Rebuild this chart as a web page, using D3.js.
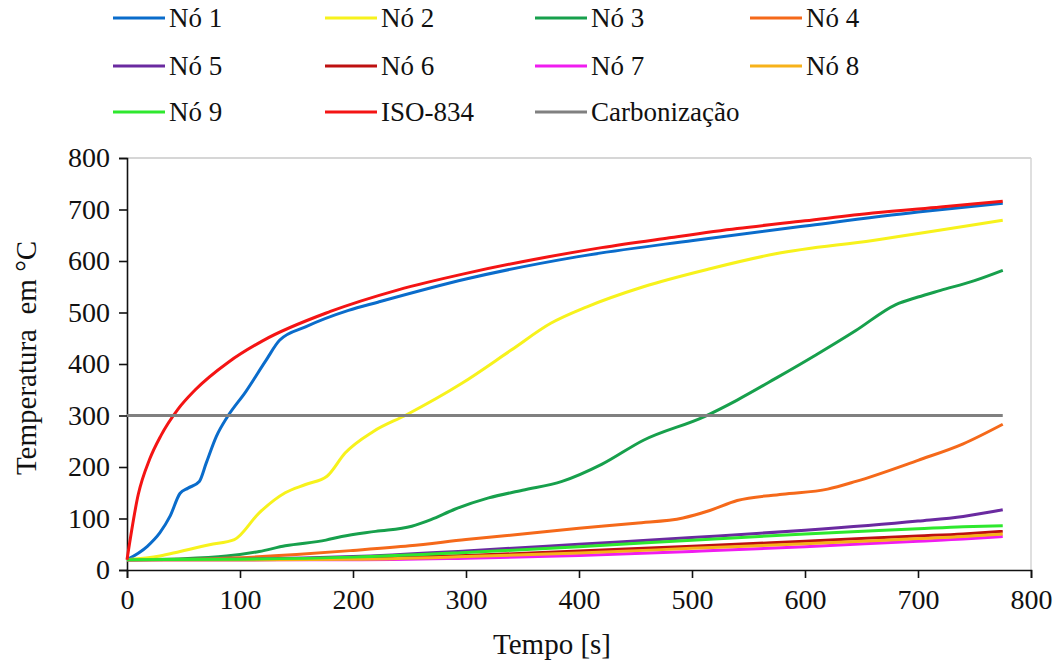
<!DOCTYPE html>
<html><head><meta charset="utf-8">
<script src="https://cdn.jsdelivr.net/npm/d3@7"></script>
<style>
html,body{margin:0;padding:0;background:#fff;}
svg{display:block;}
</style></head>
<body>
<svg id="chart" width="1057" height="666"></svg>
<script>
// ---- data ----
const seriesNames = ["Nó 1","Nó 2","Nó 3","Nó 4","Nó 5","Nó 6","Nó 7","Nó 8","Nó 9","ISO-834","Carbonização"];
const seriesColors = ["#0a6ccb","#f7f21c","#17a04c","#f5691a","#6a2aa0","#be1010","#f01cf0","#f7b21a","#2ee82e","#f41414","#808080"];

const no1T = [0,18,29,38,47,54,64,70,79,89,105,123,135,158,196,222,300,398,501,600,700,775];
const no1V = [20,46,72,104,149,159,172,207,259,298,346,407,446,472,504,520,565,608,640,668,695,712];

const no2T = [0,29,47,73,95,117,140,158,177,193,218,247,296,340,375,407,457,516,574,660,775];
const no2V = [20,27,36,49,59,111,150,166,182,227,269,301,362,427,479,511,550,585,614,640,679];

const no3T = [0,50,88,117,140,176,190,220,252,269,290,320,350,385,420,457,511,540,574,610,645,680,700,720,750,775];
const no3V = [20,22,27,36,47,58,65,75,85,98,118,140,155,172,205,252,298,330,372,418,465,515,530,543,562,582];

const no4T = [0,60,100,150,200,250,300,350,400,450,492,515,540,580,620,645,700,740,775];
const no4V = [20,21,24,30,38,47,59,70,81,91,101,115,135,147,157,172,213,245,283];

const lowT = [0,100,200,300,400,500,600,700,740,775];
const no5V = [20,21,26,37,50,63,77,95,104,117];
const no6V = [20,20,22,28,37,46,56,66,70,75];
const no7V = [20,20,20,23,28,36,45,56,60,65];
const no8V = [20,20,21,26,33,42,51,61,65,70];
const no9V = [20,21,25,34,45,58,70,80,84,86];

const isoT = [0,10,20,30,45,60,90,120,180,240,300,360,420,480,540,600,660,720,775];
const isoV = [20,147,215,261,312,349,404,445,502,544,576,603,626,645,663,678,693,705,716];

const carbT = [0,775];
const carbV = [300,300];

const xTicks = [0,100,200,300,400,500,600,700,800];
const yTicks = [0,100,200,300,400,500,600,700,800];

const seriesT = [no1T,no2T,no3T,no4T,lowT,lowT,lowT,lowT,lowT,isoT,carbT];
const seriesV = [no1V,no2V,no3V,no4V,no5V,no6V,no7V,no8V,no9V,isoV,carbV];

// ---- layout ----
const svg = d3.select("#chart");
const L = 127, R = 1031, T = 158, B = 570;
const x = d3.scaleLinear().domain([0,800]).range([L,R]);
const y = d3.scaleLinear().domain([0,800]).range([B,T]);
const FF = "Liberation Serif";

// plot frame (light)
svg.append("line").attr("x1",L).attr("x2",R).attr("y1",T).attr("y2",T)
  .attr("stroke","#c8c8c8").attr("stroke-width",1.5);
svg.append("line").attr("x1",R).attr("x2",R).attr("y1",T).attr("y2",B)
  .attr("stroke","#d4d4d4").attr("stroke-width",1.5);

const tickSize = 28, legSize = 27, titleSize = 29;

// axes
const gx = svg.append("g").attr("transform",`translate(0,${B})`)
  .call(d3.axisBottom(x).tickValues(xTicks).tickSize(8).tickPadding(11).tickFormat(d3.format("d")));
const gy = svg.append("g").attr("transform",`translate(${L},0)`)
  .call(d3.axisLeft(y).tickValues(yTicks).tickSize(8).tickPadding(9).tickFormat(d3.format("d")));
[gx,gy].forEach(g=>{
  g.attr("font-family",FF).attr("font-size",tickSize);
  g.select(".domain").attr("stroke","#111").attr("stroke-width",1.6);
  g.selectAll(".tick line").attr("stroke","#111").attr("stroke-width",1.6);
  g.selectAll(".tick text").attr("fill","#111");
});

// axis titles
svg.append("text").attr("x",552).attr("y",654).attr("text-anchor","middle")
  .attr("font-family",FF).attr("font-size",titleSize).attr("fill","#111").text("Tempo [s]");
svg.append("text").attr("transform",`translate(36,${(T+B)/2-6}) rotate(-90)`).attr("text-anchor","middle")
  .attr("font-family",FF).attr("font-size",titleSize).attr("fill","#111")
  .attr("xml:space","preserve").text("Temperatura  em °C");

// lines
const line = d3.line().x(d=>x(d[0])).y(d=>y(d[1])).curve(d3.curveMonotoneX);
seriesNames.forEach((n,i)=>{
  const pts = seriesT[i].map((t,k)=>[t, seriesV[i][k]]);
  svg.append("path").datum(pts).attr("d",line).attr("fill","none")
    .attr("stroke",seriesColors[i]).attr("stroke-width",3).attr("stroke-linejoin","round");
});

// legend
const colX = [113,325,535,750];
const rowY = [18,66,112];
seriesNames.forEach((n,i)=>{
  const cx = colX[i%4], cy = rowY[Math.floor(i/4)];
  svg.append("line").attr("x1",cx).attr("x2",cx+52).attr("y1",cy).attr("y2",cy)
    .attr("stroke",seriesColors[i]).attr("stroke-width",3);
  svg.append("text").attr("x",cx+56).attr("y",cy).attr("dy","0.35em")
    .attr("font-family",FF).attr("font-size",legSize).attr("fill","#111").text(n);
});
</script>
</body></html>
